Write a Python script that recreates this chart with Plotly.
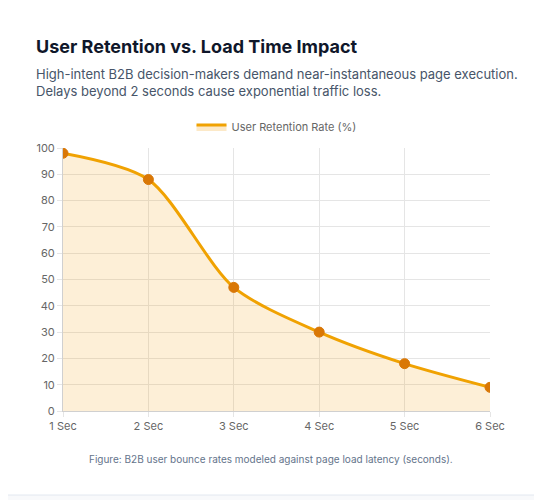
import plotly.graph_objects as go

categories = ["1 Sec", "2 Sec", "3 Sec", "4 Sec", "5 Sec", "6 Sec"]
retention = [98, 88, 47, 30, 18, 9]
series_name = "User Retention Rate (%)"

W, H = 542, 500
fig = go.Figure()
fig.add_trace(go.Scatter(
    x=categories, y=retention, name=series_name, mode="lines+markers", showlegend=False,
    line=dict(color="#f0a202", width=3, shape="spline", smoothing=0.8),
    marker=dict(size=10, color="#d97706", line=dict(color="#d97706", width=1)),
    fill="tozeroy", fillcolor="rgba(245,166,35,0.18)",
))
fig.add_trace(go.Scatter(
    x=[None], y=[None], name=series_name, mode="lines", fill="toself",
    line=dict(color="#f0a202", width=3), fillcolor="rgba(245,166,35,0.25)",
))
fig.update_layout(
    width=W, height=H, paper_bgcolor="#f8f9fb", plot_bgcolor="white",
    margin=dict(l=55, r=60, t=140, b=97),
    font=dict(family="Inter, Roboto, sans-serif", size=11, color="#666"),
    showlegend=True,
    legend=dict(orientation="h", x=0.5, xanchor="center", y=1.08, yanchor="middle",
                font=dict(size=11, color="#666"), bgcolor="rgba(0,0,0,0)"),
    xaxis=dict(type="category", range=[0, 5], showgrid=True, gridcolor="#e5e5e5",
               showline=True, linecolor="#d0d0d0", ticks="outside", ticklen=5, tickcolor="#e5e5e5"),
    yaxis=dict(range=[0, 100], dtick=10, showgrid=True, gridcolor="#e5e5e5", zeroline=False,
               showline=True, linecolor="#d0d0d0", ticks="outside", ticklen=5, tickcolor="#e5e5e5"),
    shapes=[dict(type="rect", xref="paper", yref="paper", layer="below",
                 x0=-58/427, x1=(537-63)/427, y0=-(495-411)/263, y1=(411-5)/263,
                 fillcolor="white", line=dict(color="#e2e8f0", width=1))],
    annotations=[
        dict(text="<b>User Retention vs. Load Time Impact</b>", xref="paper", yref="paper",
             x=-29/427, y=(411-47)/263, xanchor="left", yanchor="middle", showarrow=False,
             font=dict(size=18, color="#0f172a")),
        dict(text="High-intent B2B decision-makers demand near-instantaneous page execution.<br>Delays beyond 2 seconds cause exponential traffic loss.",
             xref="paper", yref="paper", x=-29/427, y=(411-82)/263, xanchor="left", yanchor="middle",
             align="left", showarrow=False, font=dict(size=13, color="#475569")),
        dict(text="Figure: B2B user bounce rates modeled against page load latency (seconds).",
             xref="paper", yref="paper", x=(271-63)/427, y=-(459-411)/263, xanchor="center",
             yanchor="middle", showarrow=False, font=dict(size=10, color="#64748b")),
    ],
)
fig.write_html("out.html")
